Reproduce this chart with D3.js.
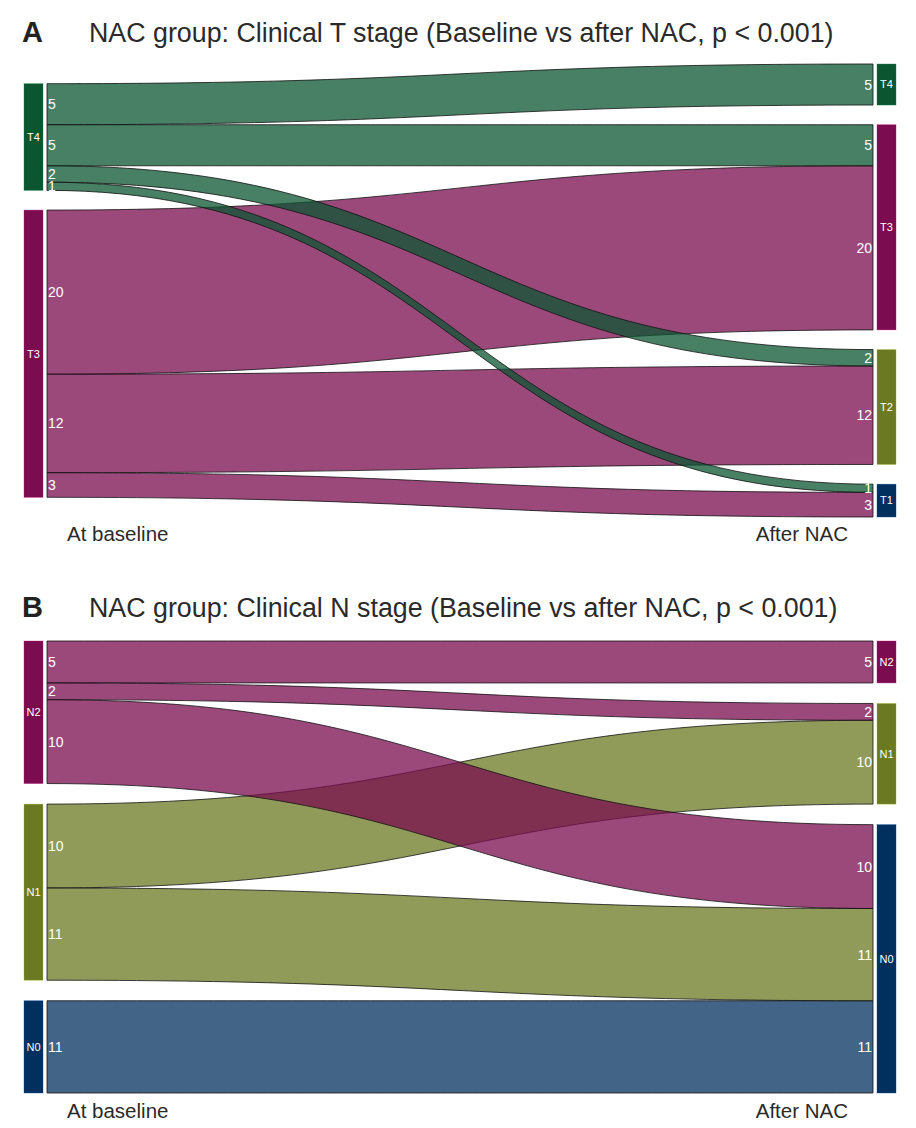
<!DOCTYPE html>
<html>
<head>
<meta charset="utf-8">
<script src="https://cdn.jsdelivr.net/npm/d3@7"></script>
<style>
  body { margin: 0; background: #fff; }
  text { font-family: "Liberation Sans", Arial, sans-serif; }
</style>
</head>
<body>
<div id="chart"></div>
<script>
// stages, top to bottom
const tStages = ["T4", "T3", "T2", "T1"];
const nStages = ["N2", "N1", "N0"];

// flows: [baseline stage, stage after NAC, patients]
const tFlows = [
    ["T4", "T4", 5], ["T4", "T3", 5], ["T4", "T2", 2], ["T4", "T1", 1],
    ["T3", "T3", 20], ["T3", "T2", 12], ["T3", "T1", 3]
];
const nFlows = [
    ["N2", "N2", 5], ["N2", "N1", 2], ["N2", "N0", 10],
    ["N1", "N1", 10], ["N1", "N0", 11],
    ["N0", "N0", 11]
];

const panelLetters = ["A", "B"];
const panelTitles = [
    "NAC group: Clinical T stage (Baseline vs after NAC, p < 0.001)",
    "NAC group: Clinical N stage (Baseline vs after NAC, p < 0.001)"
];
const axisLabels = ["At baseline", "After NAC"];

const stageColor = {
    T4: "#0b5531", T3: "#7a0c4f", T2: "#6b7a22", T1: "#01305f",
    N2: "#7a0c4f", N1: "#6b7a22", N0: "#01305f"
};

const width = 916, height = 1128;
const svg = d3.select("#chart").append("svg")
    .attr("width", width)
    .attr("height", height);

svg.append("rect").attr("width", width).attr("height", height).attr("fill", "#fff");

const x = d3.scaleLinear().domain([0, 1]).range([47, 873]);

function drawPanel(stages, flows, letter, title, top, bottom, titleY, labelY) {
    let g = svg.append("g");

    let links = flows.map(f => ({ source: f[0], target: f[1], value: f[2] }));
    let outSum = s => d3.sum(links.filter(l => l.source === s), l => l.value);
    let inSum = s => d3.sum(links.filter(l => l.target === s), l => l.value);
    let leftNodes = stages.filter(s => outSum(s) > 0);
    let rightNodes = stages.filter(s => inSum(s) > 0);
    let total = d3.sum(links, l => l.value);
    let gap = total * 0.05;
    let extent = Math.max(total + (leftNodes.length - 1) * gap, total + (rightNodes.length - 1) * gap);

    let y = d3.scaleLinear().domain([0, extent]).range([top, bottom]);

    function stack(nodes, side) {
        let used = total + (nodes.length - 1) * gap;
        let pos = (extent - used) / 2;
        return nodes.map(s => {
            let v = side === 0 ? outSum(s) : inSum(s);
            let n = { stage: s, y0: pos, y1: pos + v, side: side };
            pos += v + gap;
            return n;
        });
    }
    let left = stack(leftNodes, 0);
    let right = stack(rightNodes, 1);

    // stack the flow ends inside each node
    left.forEach(n => {
        let p = n.y0;
        links.filter(l => l.source === n.stage)
            .sort((a, b) => stages.indexOf(a.target) - stages.indexOf(b.target))
            .forEach(l => { l.sy0 = p; l.sy1 = p + l.value; p += l.value; });
    });
    right.forEach(n => {
        let p = n.y0;
        links.filter(l => l.target === n.stage)
            .sort((a, b) => stages.indexOf(a.source) - stages.indexOf(b.source))
            .forEach(l => { l.ty0 = p; l.ty1 = p + l.value; p += l.value; });
    });

    let x0 = x(0), x1 = x(1), xm = (x0 + x1) / 2;
    function ribbon(l) {
        let p = d3.path();
        p.moveTo(x0, y(l.sy0));
        p.bezierCurveTo(xm, y(l.sy0), xm, y(l.ty0), x1, y(l.ty0));
        p.lineTo(x1, y(l.ty1));
        p.bezierCurveTo(xm, y(l.ty1), xm, y(l.sy1), x0, y(l.sy1));
        p.closePath();
        return p.toString();
    }

    // flows of the top stage drawn last so they sit on top
    let drawOrder = links.slice().sort((a, b) => stages.indexOf(b.source) - stages.indexOf(a.source));
    g.selectAll("path.flow")
        .data(drawOrder)
        .enter()
        .append("path")
        .attr("class", "flow")
        .attr("d", ribbon)
        .attr("fill", d => stageColor[d.source])
        .attr("fill-opacity", 0.75)
        .attr("stroke", "#111")
        .attr("stroke-width", 0.8);

    // nodes
    let nodes = left.concat(right);
    g.selectAll("rect.node")
        .data(nodes)
        .enter()
        .append("rect")
        .attr("class", "node")
        .attr("x", d => d.side === 0 ? x0 - 23 : x1 + 4)
        .attr("width", 19)
        .attr("y", d => y(d.y0))
        .attr("height", d => y(d.y1) - y(d.y0))
        .attr("fill", d => stageColor[d.stage])
        .attr("stroke", d => d3.color(stageColor[d.stage]).brighter(1.2))
        .attr("stroke-opacity", 0.6)
        .attr("stroke-width", 0.6);

    g.selectAll("text.node")
        .data(nodes)
        .enter()
        .append("text")
        .attr("class", "node")
        .attr("x", d => d.side === 0 ? x0 - 13.5 : x1 + 13.5)
        .attr("y", d => (y(d.y0) + y(d.y1)) / 2)
        .attr("dy", "0.35em")
        .attr("text-anchor", "middle")
        .attr("fill", "#fff")
        .attr("font-size", 11)
        .text(d => d.stage);

    // flow counts at both ends
    g.selectAll("text.lcount")
        .data(links)
        .enter()
        .append("text")
        .attr("class", "lcount")
        .attr("x", x0 + 1)
        .attr("y", d => (y(d.sy0) + y(d.sy1)) / 2)
        .attr("dy", "0.36em")
        .attr("fill", "#fff")
        .attr("font-size", 14)
        .text(d => d.value);

    g.selectAll("text.rcount")
        .data(links)
        .enter()
        .append("text")
        .attr("class", "rcount")
        .attr("x", x1 - 1)
        .attr("y", d => (y(d.ty0) + y(d.ty1)) / 2)
        .attr("dy", "0.36em")
        .attr("text-anchor", "end")
        .attr("fill", "#fff")
        .attr("font-size", 14)
        .text(d => d.value);

    // titles
    g.append("text")
        .attr("x", 22)
        .attr("y", titleY)
        .attr("font-size", 29)
        .attr("font-weight", "bold")
        .attr("fill", "#222")
        .text(letter);
    g.append("text")
        .attr("x", 89)
        .attr("y", titleY)
        .attr("font-size", 26.8)
        .attr("fill", "#2a2a2a")
        .text(title);

    g.append("text")
        .attr("x", 67)
        .attr("y", labelY)
        .attr("font-size", 20.5)
        .attr("fill", "#2a2a2a")
        .text(axisLabels[0]);
    g.append("text")
        .attr("x", 848)
        .attr("y", labelY)
        .attr("text-anchor", "end")
        .attr("font-size", 20.5)
        .attr("fill", "#2a2a2a")
        .text(axisLabels[1]);
}

drawPanel(tStages, tFlows, panelLetters[0], panelTitles[0], 64, 517, 42, 541);
drawPanel(nStages, nFlows, panelLetters[1], panelTitles[1], 641, 1093, 617, 1118);
</script>
</body>
</html>
